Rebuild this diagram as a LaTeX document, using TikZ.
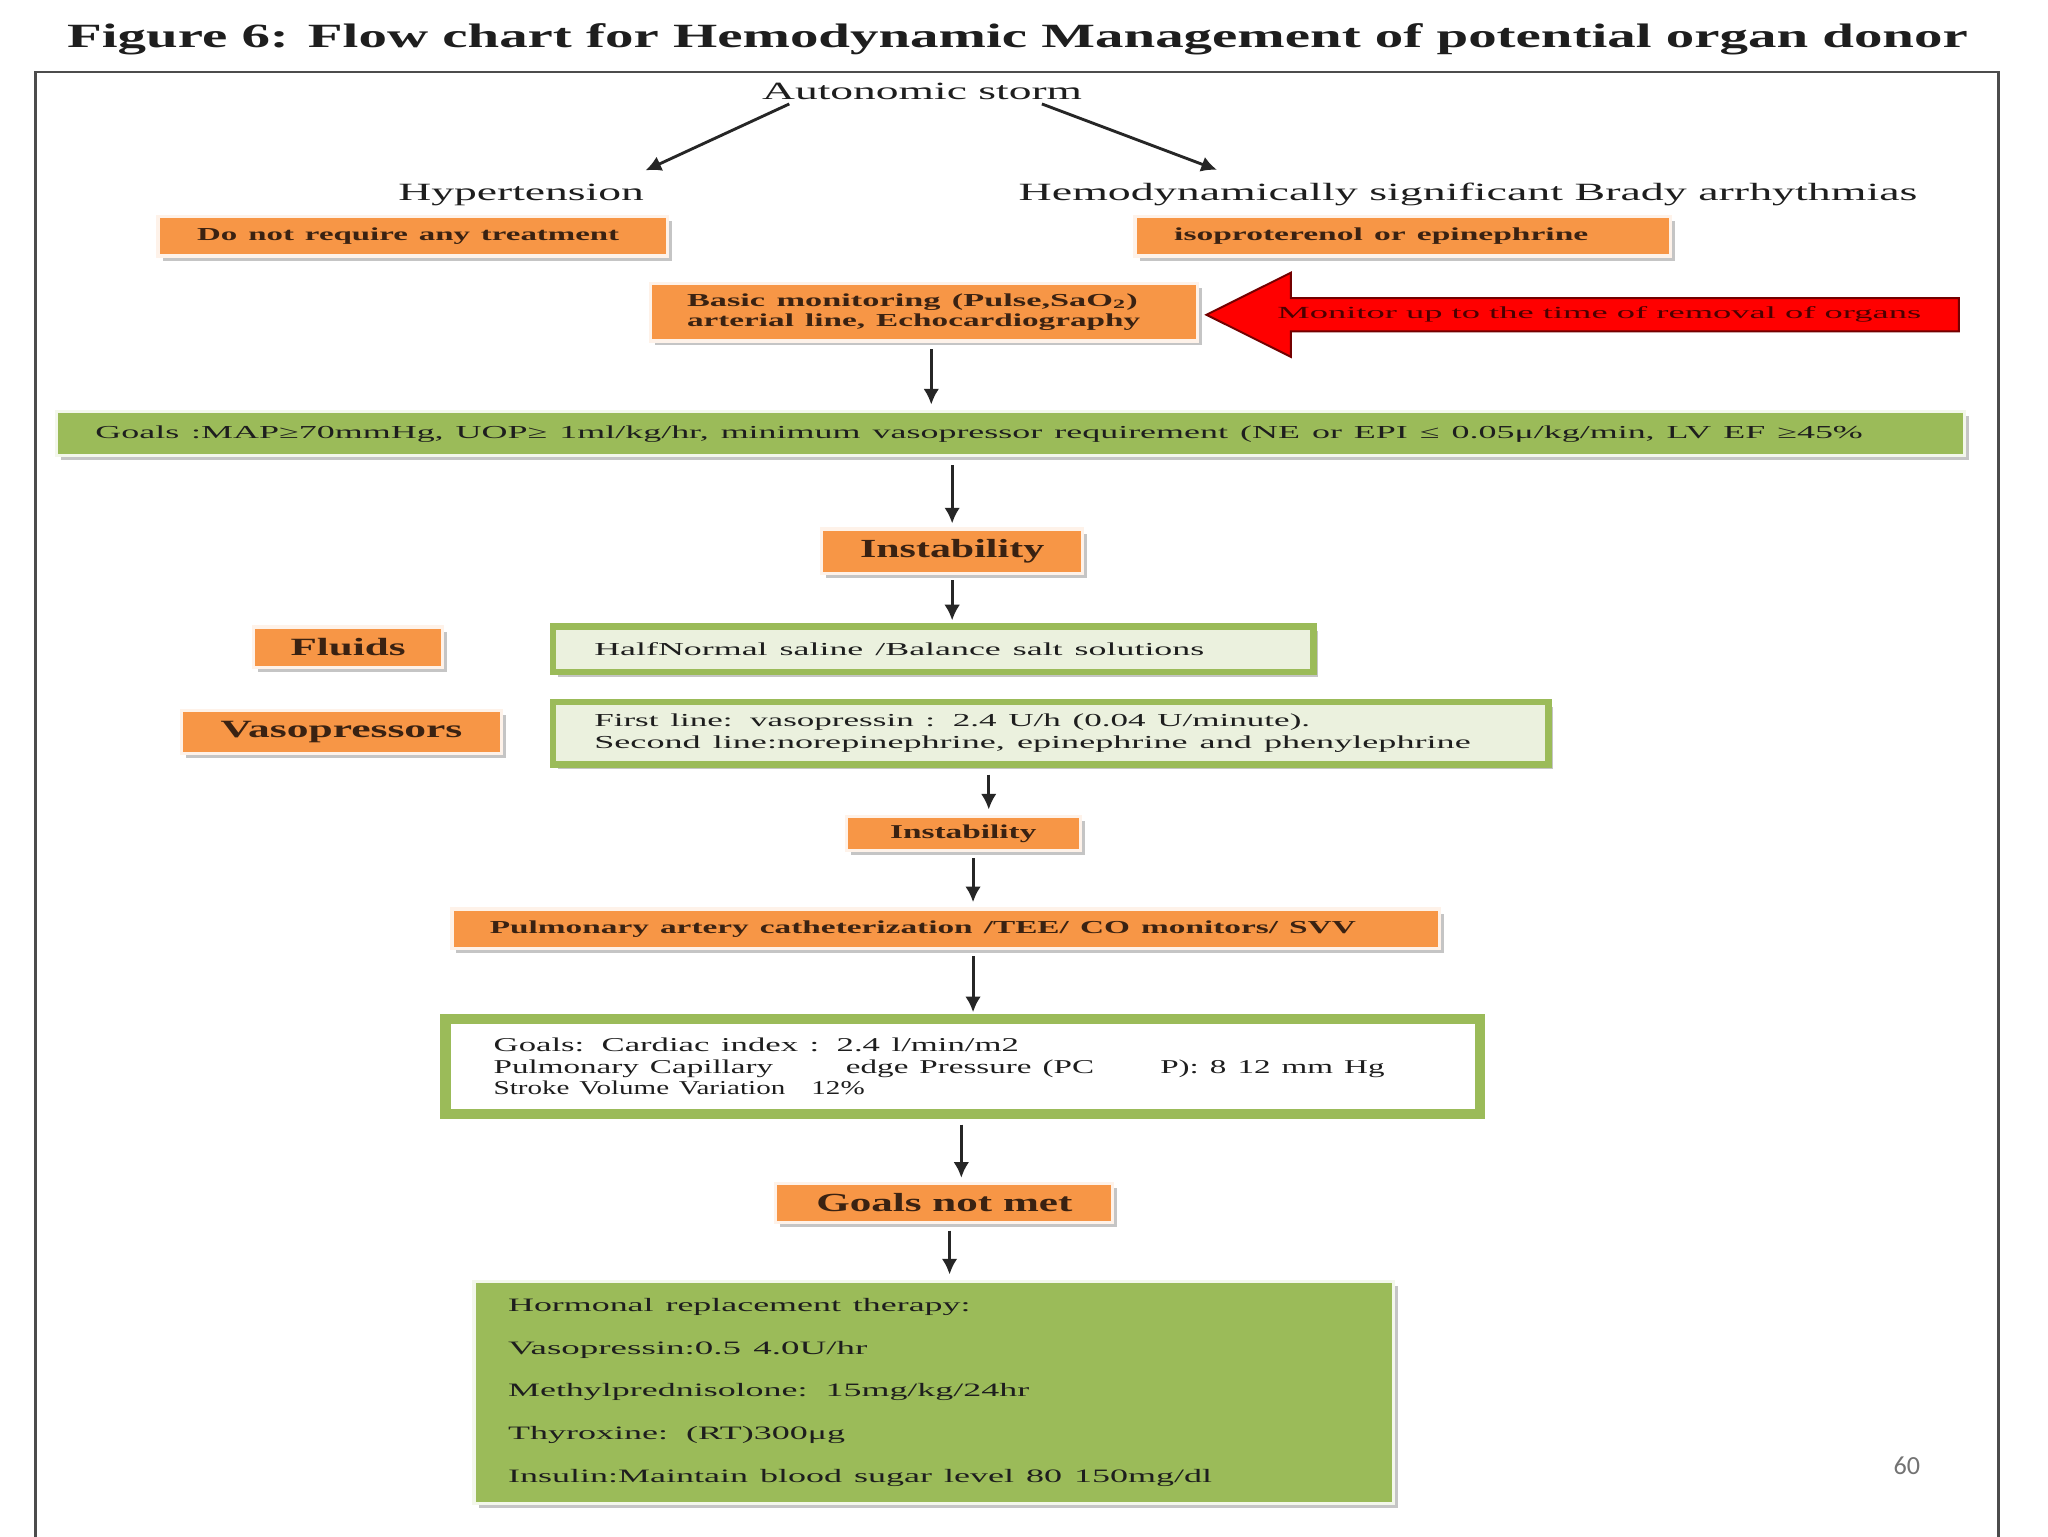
\documentclass[tikz,border=0pt]{standalone}
\usepackage{fontspec}
\setmainfont{Liberation Serif}
\newfontfamily\calib{Carlito}
\usepackage{graphicx}
\usetikzlibrary{arrows.meta,shadows,shapes.arrows,calc}
\definecolor{orng}{HTML}{F79646}
\definecolor{otext}{HTML}{3A2212}
\definecolor{grn}{HTML}{9BBB59}
\definecolor{lgrn}{HTML}{EBF1DE}
\definecolor{txt}{HTML}{1E1E1E}
\newcommand\fitw[2]{\resizebox{#1}{\height}{#2}}
\newcommand\sz[2]{\fontsize{#1}{#2}\selectfont}
\tikzset{
  shadowed/.style={drop shadow={shadow xshift=3.5pt,shadow yshift=-3.5pt,fill=black!45,opacity=0.5}},
  obox/.style={shadowed, fill=orng, draw=orng!12!white, line width=2.5pt, inner sep=0pt, text=otext},
  gbar/.style={shadowed, fill=grn, draw=grn!12!white, line width=2.5pt, inner sep=0pt, text=txt},
  gframe/.style={shadowed, draw=grn, fill=lgrn, inner sep=0pt, text=txt},
  lbl/.style={inner sep=0pt, text=txt},
  arr/.style={-{Latex[length=12pt,width=12pt]}, line width=2.2pt, black!85}
}
\begin{document}
\begin{tikzpicture}[x=1pt,y=-1pt]
\useasboundingbox[fill=white] (0,0) rectangle (1568,1176);
% title and frame
\node[lbl, font=\bfseries\sz{26}{30}] (title) at (779,30) {\fitw{1455pt}{Figure 6: Flow chart for Hemodynamic Management of potential organ donor}};
\draw[black!70, line width=2pt] (27,1190) |- (1530,55) -- (1530,1190);
% top labels
\node[lbl, font=\sz{19}{22}] (storm) at (706,70) {\fitw{245pt}{Autonomic storm}};
\node[lbl, font=\sz{19}{22}] (hyper) at (399,149) {\fitw{188pt}{Hypertension}};
\node[lbl, font=\sz{19}{22}] (hemo) at (1124,149) {\fitw{688pt}{Hemodynamically significant Brady arrhythmias}};
% orange boxes
\node[obox, minimum width=390pt, minimum height=30pt, inner xsep=30pt, text width=330pt, align=left, font=\bfseries\sz{14}{17}] (dnr) at (316,181) {\fitw{323pt}{Do not require any treatment}};
\node[obox, minimum width=410pt, minimum height=30pt, inner xsep=30pt, text width=350pt, align=left, font=\bfseries\sz{14}{17}] (iso) at (1074,181) {\fitw{317pt}{isoproterenol or epinephrine}};
\node[obox, minimum width=419pt, minimum height=44pt, inner xsep=28pt, text width=363pt, align=left, font=\bfseries\sz{14}{16}] (basic) at (707.5,239) {\fitw{345pt}{Basic monitoring (Pulse,SaO\textsubscript{2})}\\\fitw{347pt}{arterial line, Echocardiography}};
% red block arrow
\node[single arrow, shape border rotate=180, anchor=tip, fill=red, draw=red!45!black, line width=1.5pt,
      minimum height=576pt, single arrow head extend=19.5pt, single arrow tip angle=53, single arrow head indent=0pt,
      text height=9pt, text depth=3pt, inner ysep=6pt, inner xsep=4pt, text=red!30!black, font=\sz{13}{15}]
      (note) at (922,241) {\fitw{493pt}{Monitor up to the time of removal of organs}};
% goals bar
\node[gbar, minimum width=1461pt, minimum height=34pt, inner xsep=30pt, text width=1401pt, align=left, font=\sz{14}{17}] (goals1) at (773.5,332) {\fitw{1353pt}{Goals :MAP≥70mmHg, UOP≥ 1ml/kg/hr, minimum vasopressor requirement (NE or EPI ≤ 0.05μ/kg/min, LV EF ≥45\%}};
\node[obox, minimum width=200pt, minimum height=34pt, font=\bfseries\sz{20}{24}] (inst1) at (729,422) {\fitw{141pt}{Instability}};
\node[obox, minimum width=145pt, minimum height=31pt, font=\bfseries\sz{19}{22}] (fluids) at (266.5,495.5) {\fitw{88pt}{Fluids}};
\node[gframe, line width=5pt, minimum width=582pt, minimum height=35pt, inner xsep=31.5pt, text width=519pt, align=left, font=\sz{14}{17}] (half) at (714.5,497) {\fitw{467pt}{HalfNormal saline /Balance salt solutions}};
\node[obox, minimum width=245pt, minimum height=33pt, font=\bfseries\sz{19}{22}] (vaso) at (261.5,560.5) {\fitw{185pt}{Vasopressors}};
\node[gframe, line width=5pt, minimum width=762pt, minimum height=48pt, inner xsep=31.5pt, text width=699pt, align=left, font=\sz{14}{17}] (vbox) at (804.5,561.5) {\fitw{548pt}{First line: vasopressin : 2.4 U/h (0.04 U/minute).}\\\fitw{671pt}{Second line:norepinephrine, epinephrine and phenylephrine}};
\node[obox, minimum width=179pt, minimum height=26pt, font=\bfseries\sz{15}{18}] (inst2) at (737.5,638) {\fitw{112pt}{Instability}};
\node[obox, minimum width=756pt, minimum height=30pt, inner xsep=29pt, text width=698pt, align=left, font=\bfseries\sz{14}{17}] (pac) at (724,711) {\fitw{663pt}{Pulmonary artery catheterization /TEE/ CO monitors/ SVV}};
\node[draw=grn, fill=white, line width=8pt, inner sep=0pt, text=txt, minimum width=792pt, minimum height=73pt, inner xsep=37pt, text width=718pt, align=left, font=\sz{15}{16.3}] (goals2) at (737,816.5) {\fitw{402pt}{Goals: Cardiac index : 2.4 l/min/m2}\\\fitw{682pt}{Pulmonary Capillary\hspace{2.2em}edge Pressure (PC\hspace{2em}P): 8 12 mm Hg}\\\fitw{284pt}{Stroke Volume Variation\hspace{0.9em}12\%}};
\node[obox, minimum width=258pt, minimum height=30pt, font=\bfseries\sz{20}{24}] (gnm) at (723,921) {\fitw{196pt}{Goals not met}};
\node[gbar, minimum width=704pt, minimum height=170pt, inner xsep=26pt, text width=652pt, align=left, font=\sz{14.5}{32.75}] (horm) at (715,1066) {\fitw{354pt}{Hormonal replacement therapy:}\\\fitw{275pt}{Vasopressin:0.5 4.0U/hr}\\\fitw{399pt}{Methylprednisolone: 15mg/kg/24hr}\\\fitw{258pt}{Thyroxine: (RT)300μg}\\\fitw{539pt}{Insulin:Maintain blood sugar level 80 150mg/dl}};
\node[inner sep=0pt, font=\calib\sz{20}{24}, text=black!55] (pg) at (1460,1122) {60};
% connectors
\draw[arr] ($(storm.south west)+(21,3)$) -- ($(hyper.north east)+(1,-10)$);
\draw[arr] ($(storm.south east)+(-31,3)$) -- ($(hemo.north west)+(152,-10)$);
\draw[arr] ([xshift=5.5pt,yshift=-5pt]basic.south) -- ([xshift=5.5pt,yshift=4pt]basic.south |- goals1.north);
\draw[arr] ([yshift=-6pt]inst1.north |- goals1.south) -- ([yshift=3pt]inst1.north);
\draw[arr] ([yshift=-4pt]inst1.south) -- ([yshift=2pt]inst1.south |- half.north);
\draw[arr] ([xshift=19.5pt,yshift=-5pt]inst2.north |- vbox.south) -- ([xshift=19.5pt,yshift=4pt]inst2.north);
\draw[arr] ([xshift=7.5pt,yshift=-5pt]inst2.south) -- ([xshift=7.5pt,yshift=4pt]inst2.south |- pac.north);
\draw[arr] ([xshift=21pt,yshift=-5pt]pac.south) -- ([xshift=21pt,yshift=1pt]pac.south |- goals2.north);
\draw[arr] ([xshift=-1pt,yshift=-4pt]goals2.south) -- ([xshift=-1pt,yshift=3pt]goals2.south |- gnm.north);
\draw[arr] ([xshift=4pt,yshift=-5pt]gnm.south) -- ([xshift=4pt,yshift=4pt]gnm.south |- horm.north);
\end{tikzpicture}
\end{document}
